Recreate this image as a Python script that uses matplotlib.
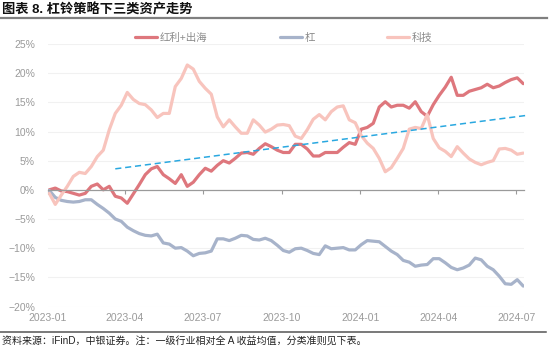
import numpy as np
import pandas as pd
import matplotlib
matplotlib.use("Agg")
import matplotlib.pyplot as plt
import matplotlib.dates as mdates
from matplotlib.lines import Line2D
from matplotlib.ticker import FuncFormatter

plt.rcParams['font.family'] = ['Liberation Sans', 'Noto Sans CJK SC', 'DejaVu Sans']

# weekly observations
dates = pd.date_range('2023-01-03', periods=80, freq='7D')

# relative return vs. all-A average, %
dividend_export = [
    0.0, 0.3, -0.2, -0.3, -0.6, -0.9, -0.6, 0.6, 1.0, 0.0,
    0.6, -1.1, -1.4, -2.3, -0.7, 0.9, 2.6, 3.6, 4.0, 2.6,
    1.9, 1.1, 2.6, 0.6, 1.3, 2.6, 3.7, 3.2, 4.2, 5.0,
    4.6, 5.4, 6.3, 6.4, 6.1, 7.1, 7.9, 7.4, 6.8, 6.4,
    6.4, 7.8, 7.8, 7.0, 5.8, 5.8, 6.4, 6.4, 6.4, 7.3,
    8.1, 7.8, 10.4, 10.7, 11.4, 14.2, 15.1, 14.2, 14.5, 14.5,
    14.0, 15.1, 13.4, 12.6, 14.6, 16.2, 17.6, 19.3, 16.2, 16.2,
    16.9, 17.2, 17.5, 18.1, 17.5, 17.8, 18.4, 18.9, 19.2, 18.2,
]
bar_red = [
    -0.1, -1.3, -1.8, -2.0, -2.1, -2.0, -1.7, -1.7, -2.5, -3.2,
    -4.0, -5.0, -5.4, -6.4, -7.0, -7.5, -7.8, -7.9, -7.6, -9.1,
    -9.3, -10.0, -9.9, -10.5, -11.3, -10.9, -10.8, -10.5, -8.4, -8.4,
    -8.7, -8.3, -7.8, -7.9, -8.5, -8.6, -8.3, -8.7, -9.5, -10.4,
    -10.7, -10.1, -10.0, -10.4, -10.9, -11.1, -9.6, -10.1, -10.0, -9.9,
    -10.3, -10.3, -9.4, -8.7, -8.8, -8.9, -9.7, -10.5, -11.1, -12.1,
    -12.4, -13.1, -12.9, -12.8, -11.8, -11.8, -12.5, -13.3, -13.7, -13.4,
    -12.9, -11.7, -12.0, -13.1, -13.7, -14.8, -16.1, -16.2, -15.4, -16.5,
]
tech = [
    -0.6, -2.5, -0.9, 0.6, 2.3, 3.0, 2.8, 4.0, 5.7, 6.8,
    10.3, 13.1, 14.5, 16.7, 15.5, 14.8, 14.6, 13.7, 12.4, 13.1,
    13.1, 17.7, 19.1, 21.4, 20.7, 18.6, 17.4, 16.4, 12.5, 10.8,
    12.0, 10.8, 9.7, 9.7, 12.0, 11.1, 9.9, 10.4, 11.1, 11.2,
    11.0, 9.2, 8.8, 10.3, 12.1, 12.9, 12.0, 13.4, 14.2, 14.4,
    12.0, 11.5, 9.3, 8.0, 7.1, 5.4, 3.1, 3.8, 5.4, 7.1,
    10.4, 10.7, 10.5, 12.9, 8.8, 7.2, 6.6, 5.7, 7.4, 6.3,
    5.3, 4.7, 4.3, 4.7, 5.0, 7.0, 7.1, 6.8, 6.1, 6.3,
]

# linear trend of the dividend/export basket
trend_dates = pd.to_datetime(['2023-03-21', '2024-07-15'])
trend_vals = [3.6, 12.8]

labels = ['红利+出海', '杠', '科技']
colors = ['#de777d', '#a7b3ca', '#f8c4bd']

xticks = pd.to_datetime(['2023-01-01', '2023-04-01', '2023-07-01', '2023-10-01',
                         '2024-01-01', '2024-04-01', '2024-07-01'])
yticks = [-20, -15, -10, -5, 0, 5, 10, 15, 20, 25]

fig = plt.figure(figsize=(5.5, 3.47), dpi=100)
ax = fig.add_axes([0.0865, 0.1167, 0.8664, 0.7565])

lines = []
for series, lab, col in zip([dividend_export, bar_red, tech], labels, colors):
    ln, = ax.plot(dates, series, color=col, lw=2.3, label=lab,
                  solid_capstyle='round', solid_joinstyle='round')
    lines.append(ln)
ax.plot(trend_dates, trend_vals, color='#2aa8e0', lw=1.1, ls=(0, (4, 2.5)),
        clip_on=False, zorder=5)

ax.set_xlim(pd.Timestamp('2023-01-01'), pd.Timestamp('2024-07-10'))
ax.set_ylim(-20, 25)
ax.set_yticks(yticks)
ax.yaxis.set_major_formatter(FuncFormatter(lambda v, p: f'{v:.0f}%'.replace('-', '\u2212')))
ax.tick_params(axis='y', length=0, pad=9, labelsize=7.5, labelcolor='#9a9a9a')
for y in yticks:
    if y != 0:
        ax.axhline(y, color='#f1f1f1', lw=0.8, zorder=0)

for s in ['top', 'right', 'left']:
    ax.spines[s].set_visible(False)
ax.spines['bottom'].set_position(('data', 0))
ax.spines['bottom'].set_color('#9a9a9a')
ax.spines['bottom'].set_linewidth(0.9)
ax.set_xticks(xticks)
ax.tick_params(axis='x', direction='out', length=3, color='#9a9a9a',
               labelbottom=False)

# date labels sit at the bottom of the plot
sec = ax.secondary_xaxis('bottom')
sec.set_xticks(xticks)
sec.xaxis.set_major_formatter(mdates.DateFormatter('%Y-%m'))
sec.tick_params(length=0, pad=5, labelsize=7.5, labelcolor='#9a9a9a')
sec.spines['bottom'].set_visible(False)

fig.legend(handles=lines, labels=labels, loc='center left',
           bbox_to_anchor=(0.245, 0.8905), ncol=3, frameon=False,
           handlelength=2.1, handletextpad=0.25, columnspacing=7.0,
           borderpad=0, borderaxespad=0,
           prop={'size': 7.5}, labelcolor='#8a8a8a')

fig.text(0.004, 0.972, '图表 8. 杠铃策略下三类资产走势', fontsize=9.5,
         fontweight='bold', va='center', ha='left', color='#111111')
fig.add_artist(Line2D([0, 0.995], [0.9467, 0.9467], color='#7f7f7f', lw=1.6))
fig.add_artist(Line2D([0, 0.993], [0.0432, 0.0432], color='#555555', lw=1.1))
fig.text(0.004, 0.018, '资料来源：iFinD，中银证券。注：一级行业相对全 A 收益均值，分类准则见下表。',
         fontsize=7.2, va='center', ha='left', color='#222222')

fig.savefig('out.png', dpi=100)
